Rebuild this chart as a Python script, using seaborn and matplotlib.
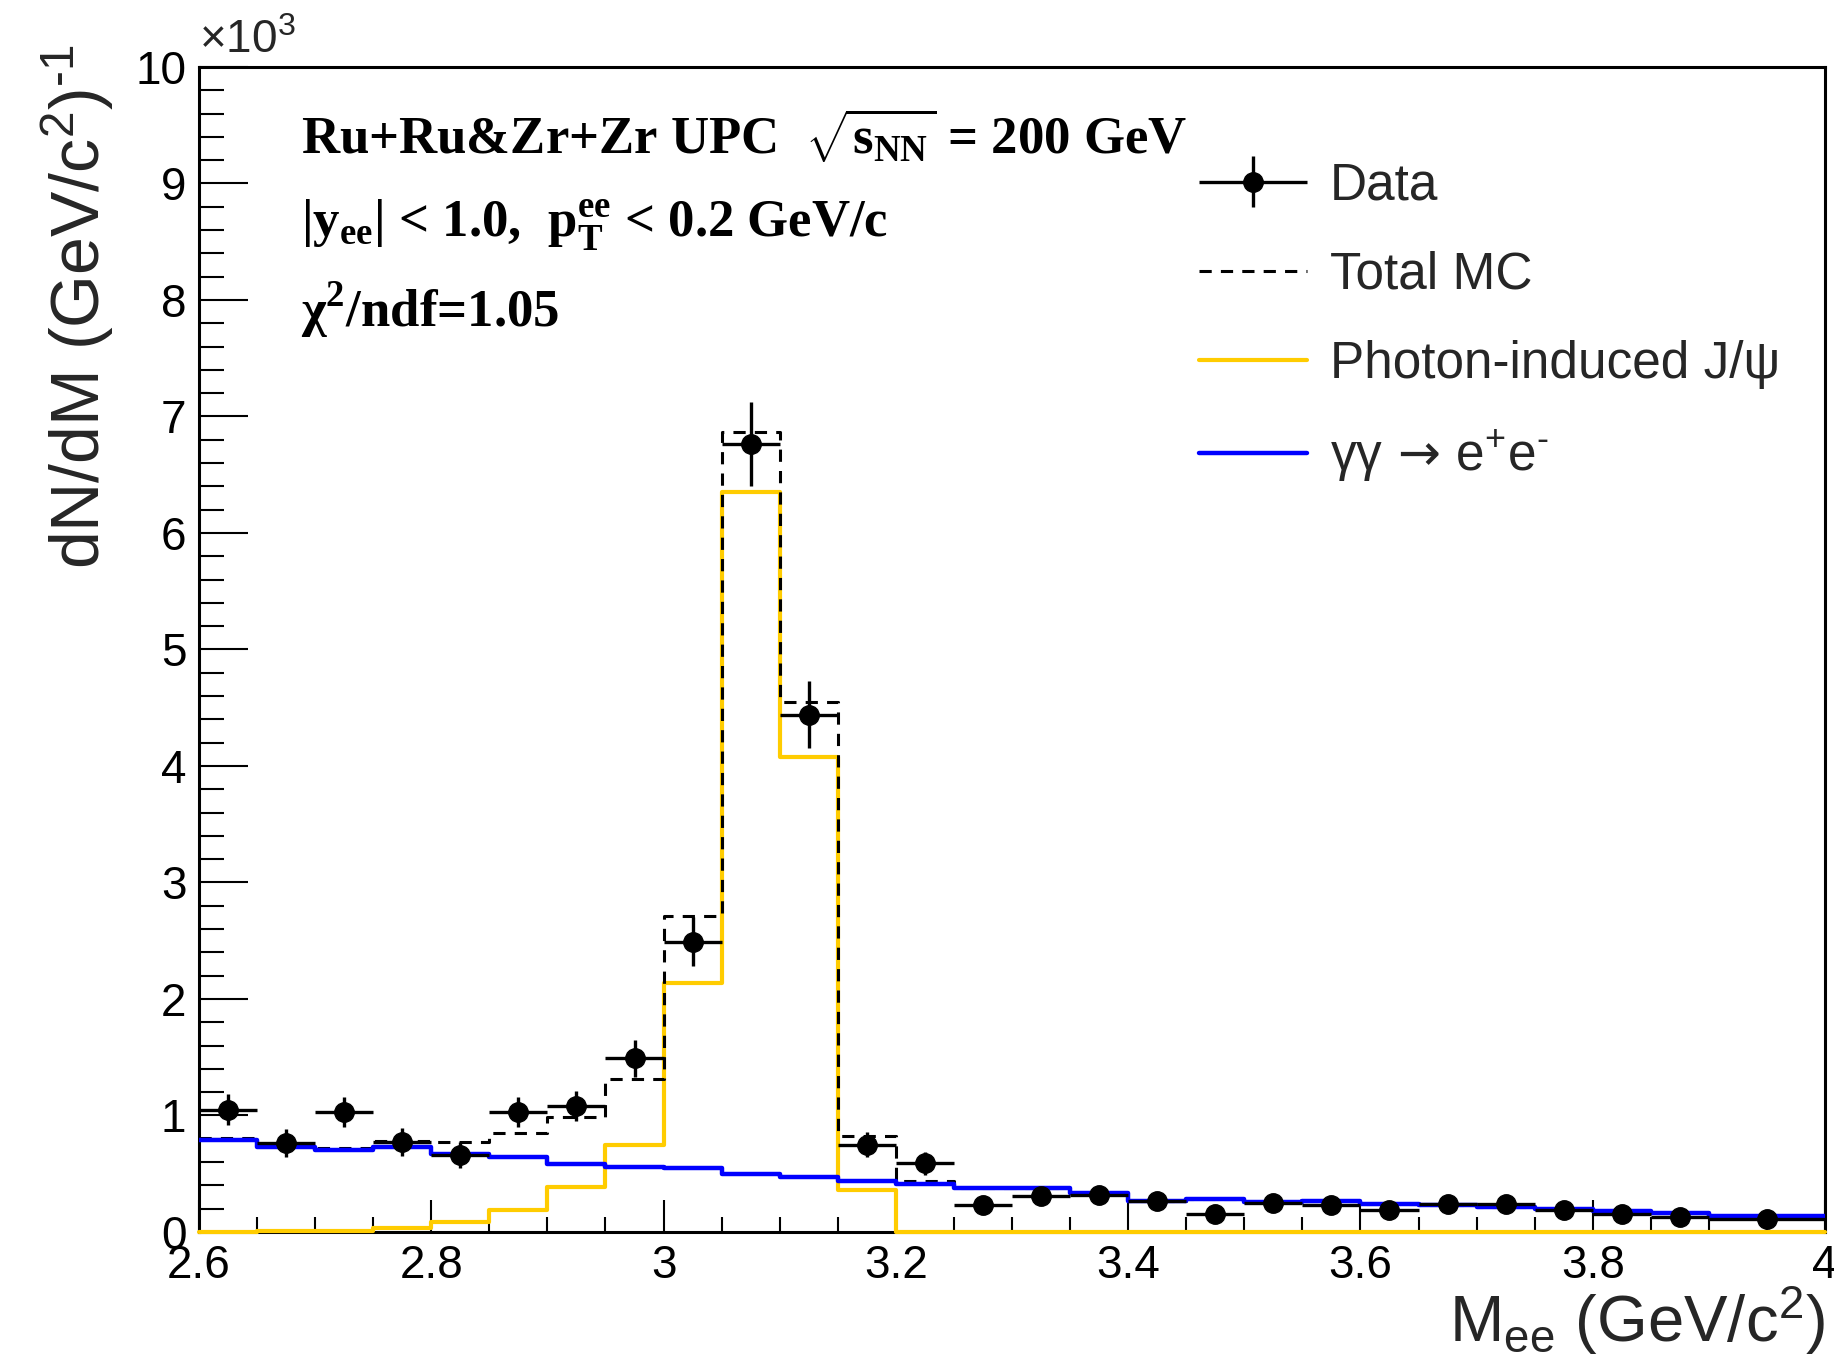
import numpy as np
import pandas as pd
import matplotlib
matplotlib.use("Agg")
import matplotlib.pyplot as plt
import seaborn as sns
from matplotlib.lines import Line2D
from matplotlib.ticker import MultipleLocator, FuncFormatter
from matplotlib.container import ErrorbarContainer
from matplotlib.legend_handler import HandlerErrorbar

# bin edges in M_ee (GeV/c^2), last bin is twice as wide
bin_edges = [2.6, 2.65, 2.7, 2.75, 2.8, 2.85, 2.9, 2.95, 3.0, 3.05, 3.1, 3.15, 3.2,
             3.25, 3.3, 3.35, 3.4, 3.45, 3.5, 3.55, 3.6, 3.65, 3.7, 3.75, 3.8,
             3.85, 3.9, 4.0]

# dN/dM in units of 10^3
data_vals = [1.05, 0.76, 1.03, 0.77, 0.66, 1.03, 1.08, 1.49, 2.49, 6.76, 4.44, 0.75,
             0.59, 0.23, 0.31, 0.32, 0.27, 0.15, 0.25, 0.23, 0.19, 0.24, 0.24, 0.19,
             0.15, 0.13, 0.11]
data_err = [0.13, 0.12, 0.13, 0.12, 0.11, 0.13, 0.13, 0.16, 0.21, 0.36, 0.29, 0.11,
            0.10, 0.07, 0.07, 0.07, 0.07, 0.06, 0.07, 0.06, 0.06, 0.06, 0.06, 0.06,
            0.05, 0.05, 0.04]
total_mc = [0.806, 0.74, 0.72, 0.78, 0.77, 0.85, 0.99, 1.31, 2.71, 6.87, 4.55, 0.82,
            0.44, 0.38, 0.374, 0.337, 0.266, 0.28, 0.254, 0.269, 0.24, 0.231, 0.211,
            0.194, 0.183, 0.16, 0.137]
jpsi_mc = [0.0, 0.005, 0.01, 0.03, 0.086, 0.19, 0.39, 0.743, 2.135, 6.355, 4.08, 0.363,
           0.0, 0.0, 0.0, 0.0, 0.0, 0.0, 0.0, 0.0, 0.0, 0.0, 0.0, 0.0, 0.0, 0.0, 0.0]
gg_mc = [0.79, 0.73, 0.70, 0.73, 0.666, 0.64, 0.586, 0.557, 0.55, 0.50, 0.47, 0.434,
         0.414, 0.38, 0.374, 0.337, 0.266, 0.28, 0.254, 0.269, 0.24, 0.231, 0.211,
         0.194, 0.183, 0.16, 0.137]

legend_labels = ["Data", "Total MC", r"Photon-induced J/ψ",
                 r"γγ$\,\mathsf{\rightarrow}\,$e$^{+}$e$^{\text{-}}$"]

edges = np.array(bin_edges)
centers = (edges[:-1] + edges[1:]) / 2
half_w = (edges[1:] - edges[:-1]) / 2

df = pd.DataFrame({"M": centers, "total": total_mc, "jpsi": jpsi_mc, "gg": gg_mc})

sns.set_theme(style="ticks")
plt.rcParams["font.family"] = ["Liberation Sans", "DejaVu Sans"]
plt.rcParams["mathtext.fontset"] = "custom"
plt.rcParams["mathtext.rm"] = "Liberation Sans"
plt.rcParams["mathtext.it"] = "Liberation Sans:italic"
plt.rcParams["mathtext.bf"] = "Liberation Serif:bold"
plt.rcParams["mathtext.sf"] = "DejaVu Sans"

yellow = "#FFCC00"
blue = "#0000FF"

fig = plt.figure(figsize=(18.34, 13.69), dpi=100)
ax = fig.add_axes([0.1085, 0.1001, 0.8866, 0.8510])

sns.histplot(data=df, x="M", weights="jpsi", bins=bin_edges, element="step", fill=False,
             color=yellow, linewidth=3, ax=ax, zorder=3, clip_on=False)
sns.histplot(data=df, x="M", weights="total", bins=bin_edges, element="step", fill=False,
             color="black", linewidth=2.2, linestyle=(0, (4, 3)), ax=ax, zorder=4)
sns.histplot(data=df, x="M", weights="gg", bins=bin_edges, element="step", fill=False,
             color=blue, linewidth=3.2, ax=ax, zorder=5)

data_h = ax.errorbar(centers, data_vals, xerr=half_w, yerr=data_err, fmt="o",
                     color="black", ms=14, elinewidth=2.4, capsize=0, zorder=6)

ax.set_xlim(2.6, 4.0)
ax.set_ylim(0, 10)
ax.xaxis.set_major_locator(MultipleLocator(0.2))
ax.xaxis.set_minor_locator(MultipleLocator(0.05))
ax.yaxis.set_major_locator(MultipleLocator(1))
ax.yaxis.set_minor_locator(MultipleLocator(0.2))
ax.xaxis.set_major_formatter(FuncFormatter(lambda v, p: f"{v:g}"))
ax.yaxis.set_major_formatter(FuncFormatter(lambda v, p: f"{v:g}"))

ax.tick_params(axis="both", which="both", direction="in", top=False, right=False,
               color="black", width=1.5, labelcolor="black")
ax.tick_params(axis="x", which="major", length=23, labelsize=33, pad=9)
ax.tick_params(axis="x", which="minor", length=11)
ax.tick_params(axis="y", which="major", length=35, labelsize=33, pad=9)
ax.tick_params(axis="y", which="minor", length=18)
for s in ax.spines.values():
    s.set_visible(True)
    s.set_color("black")
    s.set_linewidth(2.2)

ax.set_xlabel(r"M$_{\rm ee}$ (GeV/c$^{2}$)", fontsize=47, loc="right")
ax.xaxis.set_label_coords(1.0, -0.045)
ax.set_ylabel(r"dN/dM (GeV/c$^{2}$)$^{\text{-1}}$", fontsize=49, loc="top")
ax.yaxis.set_label_coords(-0.051, 1.02)

ax.text(0.0, 1.003, r"×10$^{3}$", transform=ax.transAxes, fontsize=33,
        ha="left", va="bottom")

# header text in bold serif
serif = dict(fontsize=38, fontfamily=["Liberation Serif", "DejaVu Serif"],
             fontweight="bold", ha="left", va="baseline", color="black")
ax.text(2.688, 9.25, r"Ru+Ru&Zr+Zr UPC  $\sqrt{\mathbf{s}_{\mathbf{NN}}}$ = 200 GeV", **serif)
ax.text(2.688, 8.54, r"|y$_{\mathbf{ee}}$| < 1.0,  p$_{\mathbf{T}}^{\mathbf{ee}}$ < 0.2 GeV/c", **serif)
ax.text(2.688, 7.76, r"χ$^{\mathbf{2}}$/ndf=1.05", **serif)

handles = [data_h,
           Line2D([], [], color="black", lw=2.2, linestyle=(0, (4, 3))),
           Line2D([], [], color=yellow, lw=3),
           Line2D([], [], color=blue, lw=3.2)]
ax.legend(handles, legend_labels, loc="upper left", bbox_to_anchor=(0.6538, 0.882),
          bbox_transform=fig.transFigure, frameon=False, fontsize=37,
          handlelength=2.1, handletextpad=0.45, labelspacing=0.78,
          borderpad=0, borderaxespad=0,
          handler_map={ErrorbarContainer: HandlerErrorbar(xerr_size=1.05, yerr_size=0.5)})

fig.savefig("out.png", dpi=100)
